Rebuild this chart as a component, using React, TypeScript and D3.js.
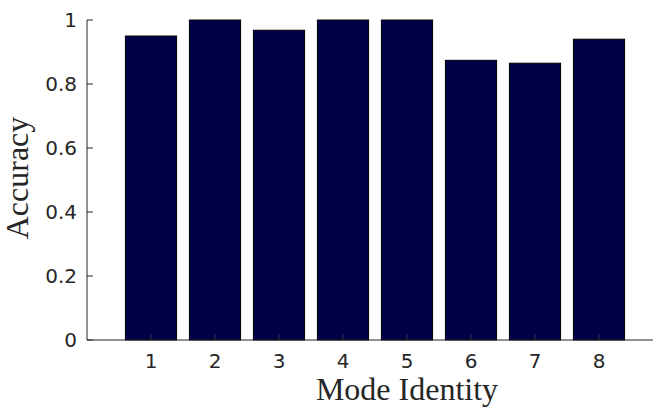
import React from "react";
import * as d3 from "d3";

const modes = [1, 2, 3, 4, 5, 6, 7, 8];
const accuracy = [0.95, 1.0, 0.968, 1.0, 1.0, 0.874, 0.865, 0.94];
const yTicks = [0, 0.2, 0.4, 0.6, 0.8, 1];

const W = 653;
const H = 412;
const MARGIN = { top: 20, left: 87, bottom: 72 };
const AXIS = "#262626";

export default function App() {
  const plotBottom = H - MARGIN.bottom;
  const x = d3.scaleLinear().domain([0, 9]).range([MARGIN.left, MARGIN.left + 576]);
  const y = d3.scaleLinear().domain([0, 1]).range([plotBottom, MARGIN.top]);
  const barW = x(0.8) - x(0);

  return (
    <svg
      width={W}
      height={H}
      style={{ position: "absolute", left: 0, top: 0, background: "#fff" }}
    >
      {modes.map((m, i) => (
        <rect
          key={m}
          x={x(m) - barW / 2}
          y={y(accuracy[i])}
          width={barW}
          height={plotBottom - y(accuracy[i])}
          fill="#000048"
          stroke="#000"
          strokeWidth={1}
        />
      ))}

      {/* x ticks, inward */}
      {modes.map((m) => (
        <g key={"xt" + m}>
          <line x1={x(m)} x2={x(m)} y1={plotBottom} y2={plotBottom - 6} stroke="#555" strokeWidth={0.6} />
          <text
            x={x(m)}
            y={plotBottom + 28}
            textAnchor="middle"
            fontFamily="DejaVu Sans"
            fontSize={20}
            fill={AXIS}
          >
            {m}
          </text>
        </g>
      ))}

      {/* y ticks, inward */}
      {yTicks.map((t) => (
        <g key={"yt" + t}>
          <line x1={MARGIN.left} x2={MARGIN.left + 6} y1={y(t)} y2={y(t)} stroke={AXIS} strokeWidth={1} />
          <text
            x={MARGIN.left - 10}
            y={y(t)}
            dy="0.36em"
            textAnchor="end"
            fontFamily="DejaVu Sans"
            fontSize={20}
            fill={AXIS}
          >
            {d3.format("~g")(t)}
          </text>
        </g>
      ))}

      <line x1={MARGIN.left} x2={MARGIN.left} y1={MARGIN.top} y2={plotBottom} stroke={AXIS} strokeWidth={1} />
      <line x1={MARGIN.left} x2={W} y1={plotBottom} y2={plotBottom} stroke={AXIS} strokeWidth={1} />

      <text
        x={407}
        y={400}
        textAnchor="middle"
        fontFamily="Liberation Serif"
        fontSize={32}
        fill={AXIS}
      >
        Mode Identity
      </text>
      <text
        transform={`translate(28, 178) rotate(-90)`}
        textAnchor="middle"
        fontFamily="Liberation Serif"
        fontSize={32}
        fill={AXIS}
      >
        Accuracy
      </text>
    </svg>
  );
}
